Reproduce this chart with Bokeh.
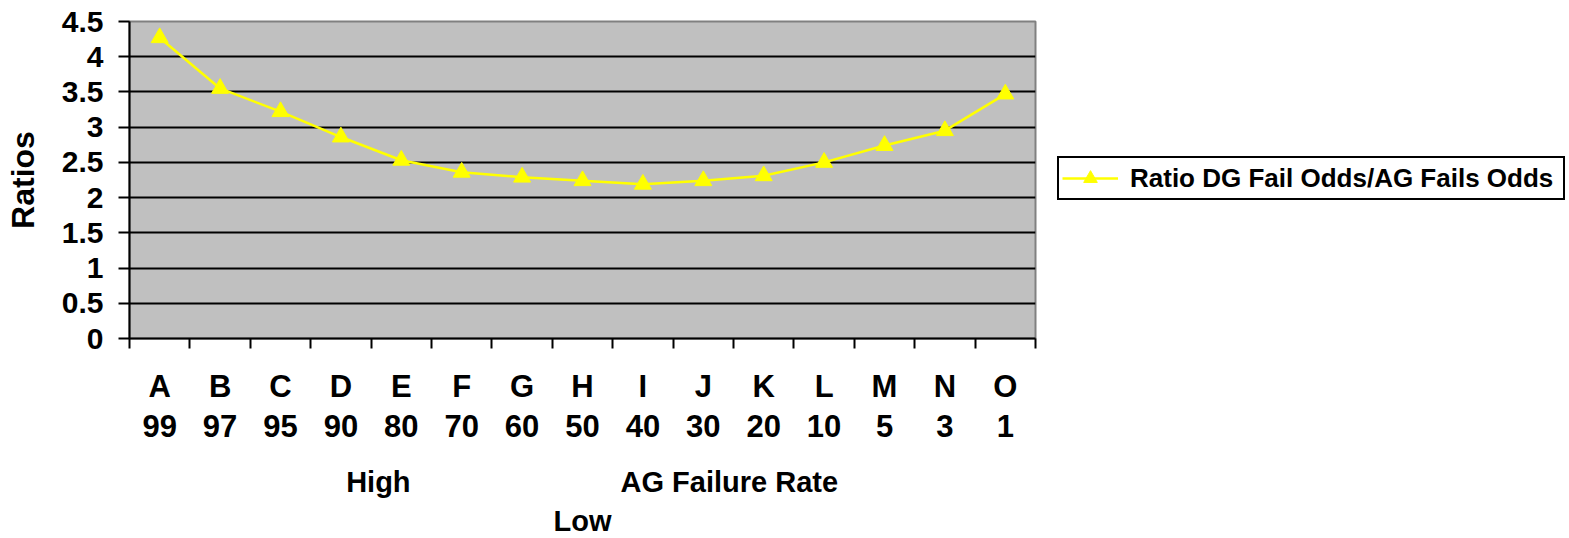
from bokeh.plotting import figure
from bokeh.models import Range1d, FixedTicker, Legend, LegendItem, LinearAxis, NumeralTickFormatter
from bokeh.embed import file_html
from bokeh.resources import INLINE

letters = ["A", "B", "C", "D", "E", "F", "G", "H", "I", "J", "K", "L", "M", "N", "O"]
rates = ["99", "97", "95", "90", "80", "70", "60", "50", "40", "30", "20", "10", "5", "3", "1"]
ratios = [4.27, 3.55, 3.22, 2.86, 2.53, 2.36, 2.29, 2.24, 2.19, 2.24, 2.31, 2.50, 2.74, 2.95, 3.47]
y_ticks = [0, 0.5, 1, 1.5, 2, 2.5, 3, 3.5, 4, 4.5]
series_name = "Ratio DG Fail Odds/AG Fails Odds"
y_title = "Ratios"
x_title_left = "High"
x_title_right = "AG Failure Rate"
x_title_low = "Low"

FONT = "Liberation Sans"
n = len(letters)
xs = [i + 0.5 for i in range(n)]

p = figure(frame_width=906, frame_height=317, width=1569, height=538,
           x_range=Range1d(0, n), y_range=Range1d(0, 4.5),
           output_backend="svg", toolbar_location=None,
           min_border_left=129, min_border_top=21, min_border_bottom=200, min_border_right=534,
           background_fill_color="#C0C0C0", border_fill_color="white")
p.outline_line_color = "#808080"
p.outline_line_width = 2

# grid
p.xgrid.visible = False
p.ygrid.ticker = FixedTicker(ticks=y_ticks)
p.ygrid.grid_line_color = "black"
p.ygrid.grid_line_width = 2

# y axis
ya = p.yaxis[0]
ya.ticker = FixedTicker(ticks=y_ticks)
ya.formatter = NumeralTickFormatter(format="0.[0]")
ya.axis_line_color = "black"
ya.axis_line_width = 2
ya.major_tick_in = 0
ya.major_tick_out = 11
ya.major_tick_line_width = 2
ya.minor_tick_line_color = None
ya.major_label_text_font = FONT
ya.major_label_text_font_style = "bold"
ya.major_label_text_font_size = "30px"
ya.major_label_text_color = "black"
ya.major_label_standoff = 15
ya.axis_label = y_title
ya.axis_label_text_font = FONT
ya.axis_label_text_font_style = "bold"
ya.axis_label_text_font_size = "32px"
ya.axis_label_text_color = "black"
ya.axis_label_standoff = 18

# x axis (tick marks at category boundaries, labels at centres)
xa = p.xaxis[0]
xa.ticker = FixedTicker(ticks=xs, minor_ticks=list(range(n + 1)))
xa.major_label_overrides = {x: f"{l}\n{r}" for x, l, r in zip(xs, letters, rates)}
xa.axis_line_color = "black"
xa.axis_line_width = 2
xa.major_tick_in = 0
xa.major_tick_out = 0
xa.minor_tick_in = 0
xa.minor_tick_out = 10
xa.minor_tick_line_color = "black"
xa.minor_tick_line_width = 2
xa.major_label_text_font = FONT
xa.major_label_text_font_style = "bold"
xa.major_label_text_font_size = "31px"
xa.major_label_text_color = "black"
xa.major_label_text_line_height = 1.17
xa.major_label_standoff = 20

# x axis titles as a second, mark-less axis
title_pos = {4.12: x_title_left, 9.93: x_title_right}
xt = LinearAxis(ticker=FixedTicker(ticks=list(title_pos.keys()), minor_ticks=[]),
                major_label_overrides=title_pos,
                axis_line_color=None, major_tick_line_color=None, minor_tick_line_color=None,
                major_label_text_font=FONT, major_label_text_font_style="bold",
                major_label_text_font_size="29px", major_label_text_color="black",
                major_label_standoff=12,
                axis_label=x_title_low, axis_label_text_font=FONT,
                axis_label_text_font_style="bold", axis_label_text_font_size="29px",
                axis_label_text_color="black", axis_label_standoff=4)
p.add_layout(xt, "below")

# series
src = dict(x=xs, y=ratios)
ln = p.line(x="x", y="y", source=src, line_color="#FFFF00", line_width=2.5)
mk = p.scatter(x="x", y="y", source=src, marker="triangle", size=17,
               fill_color="#FFFF00", line_color="#FFFF00")

legend = Legend(items=[LegendItem(label=series_name, renderers=[ln, mk])],
                location=(22, 138), margin=0, padding=3, spacing=0,
                glyph_width=56, glyph_height=34, label_height=34, label_width=430,
                label_standoff=12,
                label_text_font=FONT, label_text_font_style="bold",
                label_text_font_size="26px", label_text_color="black",
                border_line_color="black", border_line_width=2, border_line_alpha=1.0,
                background_fill_color="white", background_fill_alpha=1.0)
p.add_layout(legend, "right")

open("out.html", "w").write(file_html(p, INLINE))
